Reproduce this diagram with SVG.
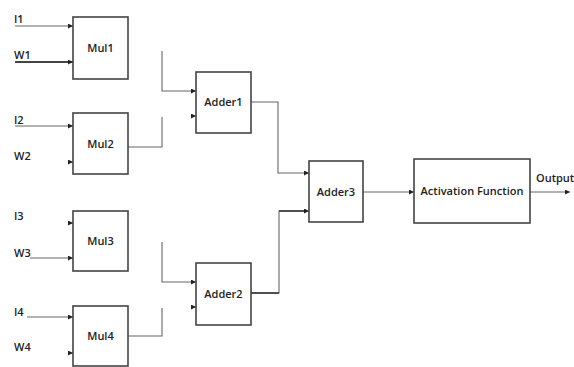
<svg xmlns="http://www.w3.org/2000/svg" width="574" height="367" viewBox="0 0 574 367">
<style>
.box{fill:#fff;stroke:#444;stroke-width:1.6}
.lbl{font-family:"Open Sans","Liberation Sans",sans-serif;font-size:11px;font-weight:600;fill:#222;text-anchor:middle}
.in{font-family:"Open Sans","Liberation Sans",sans-serif;font-size:11px;font-weight:600;fill:#222}
.w{fill:none;stroke:#666;stroke-width:1.1}
.wt{fill:none;stroke:#444;stroke-width:1.8}
.tip{fill:#222}
</style>
<defs>
<marker id="ar" viewBox="0 0 6 6" refX="6" refY="3" markerWidth="5" markerHeight="5" markerUnits="userSpaceOnUse" orient="auto"><path d="M0,0L6,3L0,6z" class="tip"/></marker>
</defs>
<rect width="574" height="367" fill="#fff"/>
<g id="connectors">
<line class="w" x1="15" y1="26" x2="73" y2="26" marker-end="url(#ar)"/>
<line class="wt" x1="15" y1="62" x2="73" y2="62" marker-end="url(#ar)"/>
<line class="w" x1="15" y1="126" x2="73" y2="126" marker-end="url(#ar)"/>
<line class="w" x1="70" y1="162" x2="73" y2="162" marker-end="url(#ar)"/>
<line class="w" x1="70" y1="223" x2="73" y2="223" marker-end="url(#ar)"/>
<line class="w" x1="30" y1="258" x2="73" y2="258" marker-end="url(#ar)"/>
<line class="w" x1="27" y1="317" x2="73" y2="317" marker-end="url(#ar)"/>
<line class="w" x1="70" y1="353" x2="73" y2="353" marker-end="url(#ar)"/>
<polyline class="w" points="162,51 162,91 196,91" marker-end="url(#ar)"/>
<polyline class="w" points="128,147 162,147 162,117"/>
<line class="w" x1="193" y1="116" x2="196" y2="116" marker-end="url(#ar)"/>
<polyline class="w" points="162,242 162,282 196,282" marker-end="url(#ar)"/>
<polyline class="w" points="128,336 162,336 162,308"/>
<line class="w" x1="193" y1="307" x2="196" y2="307" marker-end="url(#ar)"/>
<polyline class="w" points="251,102 278,102 278,173 309,173" marker-end="url(#ar)"/>
<polyline class="w" points="251,293 279,293 279,211 309,211" marker-end="url(#ar)"/>
<line class="wt" x1="251" y1="293" x2="279" y2="293"/>
<line class="wt" x1="279" y1="211" x2="304" y2="211"/>
<line class="w" x1="363" y1="192" x2="414" y2="192" marker-end="url(#ar)"/>
<line class="w" x1="530" y1="192" x2="570" y2="192" marker-end="url(#ar)"/>
</g>
<g id="labels">
<text class="in" x="14" y="23">I1</text>
<text class="in" x="14" y="59">W1</text>
<text class="in" x="14" y="124">I2</text>
<text class="in" x="14" y="160">W2</text>
<text class="in" x="14" y="220">I3</text>
<text class="in" x="14" y="257">W3</text>
<text class="in" x="14" y="316">I4</text>
<text class="in" x="14" y="351">W4</text>
<text class="in" x="536" y="182">Output</text>
</g>
<g id="mul1"><rect class="box" x="73" y="17" width="55" height="62"/><text class="lbl" x="100.5" y="52">Mul1</text></g>
<g id="mul2"><rect class="box" x="73" y="113" width="55" height="61"/><text class="lbl" x="100.5" y="148">Mul2</text></g>
<g id="mul3"><rect class="box" x="73" y="211" width="55" height="60"/><text class="lbl" x="100.5" y="245">Mul3</text></g>
<g id="mul4"><rect class="box" x="73" y="306" width="55" height="60"/><text class="lbl" x="100.5" y="340">Mul4</text></g>
<g id="adder1"><rect class="box" x="196" y="72" width="55" height="61"/><text class="lbl" x="223.5" y="106">Adder1</text></g>
<g id="adder2"><rect class="box" x="196" y="263" width="55" height="62"/><text class="lbl" x="223.5" y="298">Adder2</text></g>
<g id="adder3"><rect class="box" x="309" y="161" width="54" height="61"/><text class="lbl" x="336" y="196">Adder3</text></g>
<g id="activation"><rect class="box" x="414" y="159" width="116" height="64"/><text class="lbl" x="472" y="195">Activation Function</text></g>
</svg>
